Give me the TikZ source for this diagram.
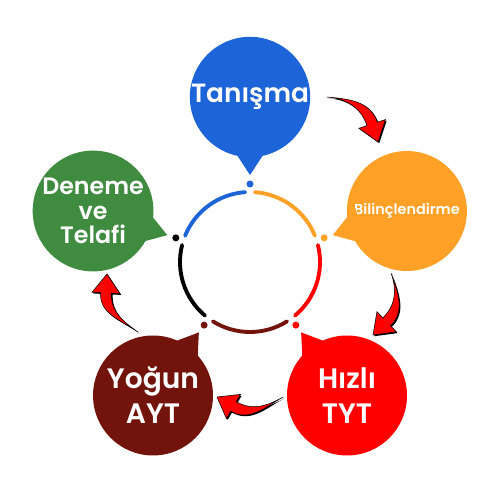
\documentclass[tikz,border=0pt]{standalone}
\usepackage{fontspec}
\setmainfont{Poppins}[BoldFont = Poppins SemiBold]
\usepackage{tikz}
\usetikzlibrary{calc}

\definecolor{tanblue}{RGB}{28,100,215}
\definecolor{bilorange}{RGB}{255,161,38}
\definecolor{hizred}{RGB}{255,0,0}
\definecolor{yogbrown}{RGB}{114,20,12}
\definecolor{dengreen}{RGB}{63,139,63}

\tikzset{
  bubble/.style = {circle, minimum size = 2.4cm, inner sep = 0pt, text = white, align = center},
  ringarc/.style = {line width = 2.2pt, line cap = round},
  flowarrow/.style = {fill = red, draw = black, line width = 0.3pt,
    preaction = {fill = black, transform canvas = {shift = {(0.7pt, -0.7pt)}}}}
}

\begin{document}
\begin{tikzpicture}[x = 0.02cm, y = 0.02cm]
  \useasboundingbox (0, 0) rectangle (500, 500);
  \coordinate (c) at (250, 238);

  % bubbles
  \node[bubble, fill = tanblue, font = \fontsize{15}{18}\selectfont\bfseries] (tan) at ($(c)+(90:165)$) {Tanışma};
  \node[bubble, fill = bilorange, font = \fontsize{8.2}{11}\selectfont\bfseries] (bil) at ($(c)+(18:165)$) {Bilinçlendirme};
  \node[bubble, fill = hizred, font = \fontsize{16}{20}\selectfont\bfseries] (hiz) at ($(c)+(-54:165)$) {Hızlı\\TYT};
  \node[bubble, fill = yogbrown, font = \fontsize{16}{20}\selectfont\bfseries] (yog) at ($(c)+(234:165)$) {Yoğun\\AYT};
  \node[bubble, fill = dengreen, font = \fontsize{13.5}{14}\selectfont\bfseries] (den) at ($(c)+(162:165)$) {Deneme\\ve\\Telafi};

  % pointers
  \coordinate (tantip) at ($(c)+(90:87)$);
  \coordinate (biltip) at ($(c)+(18:87)$);
  \coordinate (hiztip) at ($(c)+(-54:87)$);
  \coordinate (yogtip) at ($(c)+(234:87)$);
  \coordinate (dentip) at ($(c)+(162:87)$);
  \fill[tanblue] ($(tan)+(248:52)$) -- (tantip) -- ($(tan)+(292:52)$) -- cycle;
  \fill[bilorange] ($(bil)+(176:52)$) -- (biltip) -- ($(bil)+(220:52)$) -- cycle;
  \fill[hizred] ($(hiz)+(104:52)$) -- (hiztip) -- ($(hiz)+(148:52)$) -- cycle;
  \fill[yogbrown] ($(yog)+(32:52)$) -- (yogtip) -- ($(yog)+(76:52)$) -- cycle;
  \fill[dengreen] ($(den)+(-40:52)$) -- (dentip) -- ($(den)+(4:52)$) -- cycle;

  % dots
  \fill[tanblue] ($(c)+(90:78)$) circle (3.5);
  \fill[bilorange] ($(c)+(18:78)$) circle (3.5);
  \fill[hizred] ($(c)+(-54:78)$) circle (3.5);
  \fill[yogbrown] ($(c)+(234:78)$) circle (3.5);
  \fill[black] ($(c)+(162:78)$) circle (3.5);

  % ring
  \draw[ringarc, bilorange] ($(c)+(22:70)$) arc[start angle = 22, end angle = 86, radius = 70];
  \draw[ringarc, tanblue] ($(c)+(94:70)$) arc[start angle = 94, end angle = 158, radius = 70];
  \draw[ringarc, black] ($(c)+(166:70)$) arc[start angle = 166, end angle = 230, radius = 70];
  \draw[ringarc, yogbrown] ($(c)+(238:70)$) arc[start angle = 238, end angle = 302, radius = 70];
  \draw[ringarc, hizred] ($(c)+(-50:70)$) arc[start angle = -50, end angle = 14, radius = 70];

  % arrows
  \coordinate (a1s) at (327, 403);
  \coordinate (a1e) at (378, 358);
  \coordinate (a2s) at (391, 227);
  \coordinate (a2e) at (373, 165);
  \coordinate (a3s) at (283, 103);
  \coordinate (a3e) at (217, 103);
  \coordinate (a4s) at (138, 168);
  \coordinate (a4e) at (107, 226);

  \filldraw[flowarrow] (a1s) to[out = -5, in = 108] ($(a1e)+(108:19)+(18:5.5)$) -- ($(a1e)+(108:19)+(18:14)$) -- (a1e)
    -- ($(a1e)+(108:19)+(-162:14)$) -- ($(a1e)+(108:19)+(-162:5.5)$) to[out = 108, in = -5] (a1s) -- cycle;
  \filldraw[flowarrow] (a2s) to[out = -70, in = 44] ($(a2e)+(44:19)+(-46:5.5)$) -- ($(a2e)+(44:19)+(-46:14)$) -- (a2e)
    -- ($(a2e)+(44:19)+(134:14)$) -- ($(a2e)+(44:19)+(134:5.5)$) to[out = 44, in = -70] (a2s) -- cycle;
  \filldraw[flowarrow] (a3s) to[out = 210, in = -30] ($(a3e)+(-30:19)+(240:5.5)$) -- ($(a3e)+(-30:19)+(240:14)$) -- (a3e)
    -- ($(a3e)+(-30:19)+(60:14)$) -- ($(a3e)+(-30:19)+(60:5.5)$) to[out = -30, in = 210] (a3s) -- cycle;
  \filldraw[flowarrow] (a4s) to[out = 145, in = -93] ($(a4e)+(-93:19)+(177:5.5)$) -- ($(a4e)+(-93:19)+(177:14)$) -- (a4e)
    -- ($(a4e)+(-93:19)+(-3:14)$) -- ($(a4e)+(-93:19)+(-3:5.5)$) to[out = -93, in = 145] (a4s) -- cycle;
\end{tikzpicture}
\end{document}
